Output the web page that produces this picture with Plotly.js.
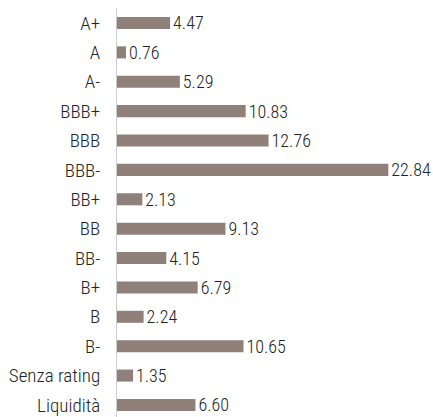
<!DOCTYPE html>
<html>
<head>
<meta charset="utf-8">
<script src="https://cdn.plot.ly/plotly-3.0.1.min.js"></script>
<style>html,body{margin:0;padding:0;background:#fff;}#chart{width:433px;height:417px;}</style>
</head>
<body>
<div id="chart"></div>
<script>
const categories = ["A+","A","A-","BBB+","BBB","BBB-","BB+","BB","BB-","B+","B","B-","Senza rating","Liquidità"];
const values = [4.47,0.76,5.29,10.83,12.76,22.84,2.13,9.13,4.15,6.79,2.24,10.65,1.35,6.60];
const valueLabels = values.map(v => v.toFixed(2));

const FONT = '"Roboto Condensed", Roboto, sans-serif';

Plotly.newPlot('chart', [{
  type: 'bar',
  orientation: 'h',
  x: values,
  y: categories,
  text: valueLabels,
  textposition: 'outside',
  constraintext: 'none',
  cliponaxis: false,
  textfont: {family: FONT, size: 18, color: '#222', weight: 300, stretch: 'condensed'},
  marker: {color: '#8f8179'},
  width: 0.41,
  hoverinfo: 'none'
}], {
  width: 433, height: 417,
  margin: {l: 117, r: 0, t: 8, b: 0},
  paper_bgcolor: '#fff', plot_bgcolor: '#fff',
  showlegend: false,
  xaxis: {range: [0, 26.6], visible: false, fixedrange: true},
  yaxis: {
    type: 'category',
    range: [13.41, -0.51],
    showgrid: false, zeroline: false,
    showline: true, linecolor: '#cccccc', linewidth: 1,
    ticks: '', ticklabelstandoff: 12,
    tickfont: {family: FONT, size: 19, color: '#222', weight: 300, stretch: 'condensed'}
  },
  font: {family: FONT}
}, {displayModeBar: false, staticPlot: true});
</script>
</body>
</html>
